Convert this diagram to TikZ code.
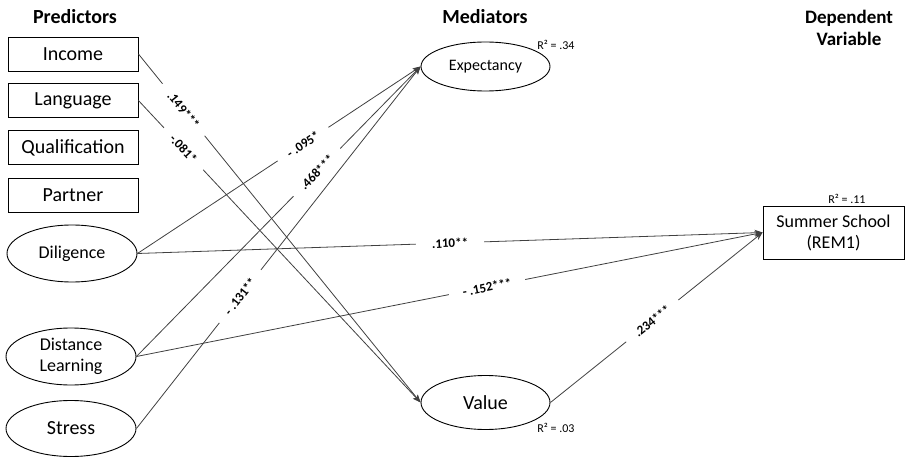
\documentclass[tikz,border=0pt]{standalone}
\usepackage{fontspec}
\setmainfont{Carlito}
\usetikzlibrary{shapes.geometric,arrows.meta}
\tikzset{
  predbox/.style={draw=black, line width=0.9pt, minimum width=130pt, minimum height=34pt, inner sep=0pt, font=\fontsize{20}{22}\selectfont},
  latent/.style={draw=black, line width=0.9pt, ellipse, inner sep=0pt, minimum width=130pt, minimum height=57pt},
  heading/.style={font=\bfseries\fontsize{20}{24}\selectfont, align=center},
  rsq/.style={font=\fontsize{12}{14}\selectfont, inner sep=0pt},
  path/.style={draw=black!75, line width=0.8pt, -{Stealth[length=8pt,width=6pt]}},
  coef/.style={sloped, fill=white, inner xsep=12pt, inner ysep=1pt, font=\bfseries\fontsize{13}{15}\selectfont}
}
\begin{document}
\begin{tikzpicture}[x=1pt,y=-1pt]
\useasboundingbox (0,0) rectangle (905,457);
% headings
\node[heading] (hpred) at (75,17) {Predictors};
\node[heading] (hmed) at (485,17) {Mediators};
\node[heading, font=\bfseries\fontsize{19}{22}\selectfont] (hdep) at (849,28) {Dependent\\Variable};
% predictors
\node[predbox] (inc) at (73,54) {Income};
\node[predbox] (lang) at (73,100.5) {Language};
\node[predbox] (qual) at (73,147.5) {Qualification};
\node[predbox] (part) at (73,195) {Partner};
\node[latent, font=\fontsize{18}{20}\selectfont] (dil) at (72,253.5) {Diligence};
\node[latent, align=center, font=\fontsize{18}{21}\selectfont] (dist) at (71,356.5) {Distance\\Learning};
\node[latent, minimum height=56pt, font=\fontsize{20}{22}\selectfont] (str) at (71,428.5) {Stress};
% mediators
\node[latent, minimum width=129pt, minimum height=49pt, font=\fontsize{16}{18}\selectfont] (exp) at (485.5,66.5) {Expectancy};
\node[latent, minimum width=129pt, minimum height=54pt, font=\fontsize{20}{22}\selectfont] (val) at (485.5,402.5) {Value};
\node[rsq] (rexp) at (556,45) {R² = .34};
\node[rsq] (rval) at (556,428) {R² = .03};
% dependent
\node[draw=black, line width=0.9pt, minimum width=141pt, minimum height=53pt, inner sep=0pt, align=center, font=\fontsize{18}{21}\selectfont] (sum) at (833.5,232.5) {Summer School\\(REM1)};
\node[rsq] (rsum) at (847,199) {R² = .11};
% paths
\draw[path] (inc.east) -- node[coef, pos=0.16] {.149***} (val.west);
\draw[path] (lang.east) -- node[coef, pos=0.16] {-.081*} (val.west);
\draw[path] (dil.east) -- node[coef, pos=0.585] {- .095*} (exp.west);
\draw[path] (dist.east) -- node[coef, pos=0.635] {.468***} (exp.west);
\draw[path] (str.east) -- node[coef, pos=0.365] {- .131**} (exp.west);
\draw[path] (dil.east) -- node[coef, pos=0.5, inner xsep=16pt] {.110**} (sum.west);
\draw[path] (dist.east) -- node[coef, pos=0.56, inner xsep=14pt] {- .152***} (sum.west);
\draw[path] (val.east) -- node[coef, pos=0.48] {.234***} (sum.west);
\end{tikzpicture}
\end{document}
